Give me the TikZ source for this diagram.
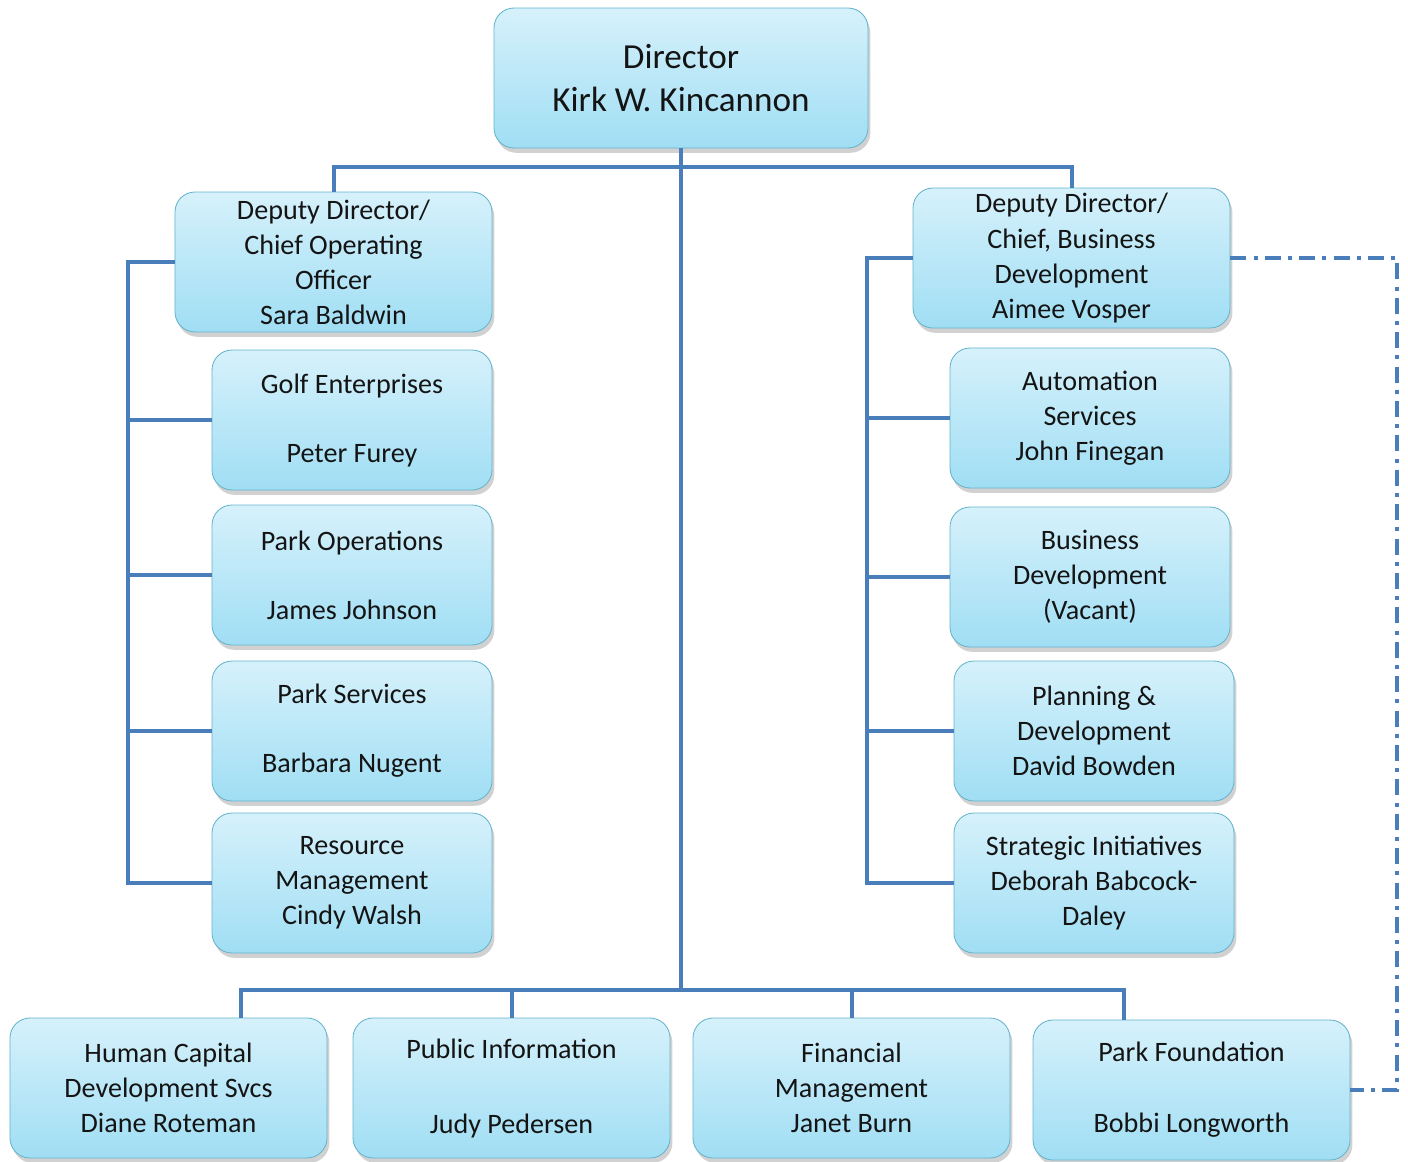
\documentclass[tikz,border=0pt]{standalone}
\usepackage{fontspec}
\setmainfont{Carlito}
\usepackage{xcolor}
\usetikzlibrary{positioning, calc, shadows}

\definecolor{linkblue}{RGB}{74,126,187}
\definecolor{boxedge}{RGB}{100,180,204}
\definecolor{boxtop}{RGB}{214,241,251}
\definecolor{boxbot}{RGB}{160,222,244}

\begin{document}
\begin{tikzpicture}[x=0.25mm, y=-0.25mm,
    unit/.style={draw=boxedge, line width=0.6pt, rounded corners=5mm,
      top color=boxtop, bottom color=boxbot,
      drop shadow={shadow xshift=0.6mm, shadow yshift=-1.2mm, opacity=0.3, fill=black!60},
      minimum height=35mm, inner sep=0pt, align=center, text=black!92,
      font=\fontsize{20}{24.9}\selectfont},
    wide/.style={unit, minimum width=79.25mm},
    narrow/.style={unit, minimum width=70mm},
    link/.style={draw=linkblue, line width=1mm},
    dotlink/.style={draw=linkblue, line width=0.9mm,
      dash pattern=on 4mm off 1.8mm on 1mm off 1.8mm}]

  \useasboundingbox (0,0) rectangle (1408,1161);

  % Director
  \node[unit, minimum width=93.5mm, font=\fontsize{25}{30.5}\selectfont] (director) at (681,78)
    {Director\\Kirk W. Kincannon};

  % Deputies
  \node[wide] (coo) at (333.5,262) {Deputy Director/\\Chief Operating\\Officer\\Sara Baldwin};
  \node[wide] (dbd) at (1071.5,258) {Deputy Director/\\Chief, Business\\Development\\Aimee Vosper};

  % Operations side
  \node[narrow] (golf) at (352,420) {Golf Enterprises\\[8.5mm]Peter Furey};
  \node[narrow] (parkops) at (352,575) {Park Operations\\[8.5mm]James Johnson};
  \node[narrow] (parksvc) at (352,731) {Park Services\\[8.5mm]Barbara Nugent};
  \node[narrow] (resmgmt) at (352,883) {Resource\\Management\\Cindy Walsh};

  % Business side
  \node[narrow] (auto) at (1090,418) {Automation\\Services\\John Finegan};
  \node[narrow] (bizdev) at (1090,577) {Business\\Development\\(Vacant)};
  \node[narrow] (planning) at (1094,731) {Planning \&\\Development\\David Bowden};
  \node[narrow] (strategic) at (1094,883) {Strategic Initiatives\\Deborah Babcock-\\Daley};

  % Staff offices
  \node[wide] (hcd) at (168.5,1088) {Human Capital\\Development Svcs\\Diane Roteman};
  \node[wide] (pubinfo) at (511.5,1088) {Public Information\\[10mm]Judy Pedersen};
  \node[wide] (finmgmt) at (851.5,1088) {Financial\\Management\\Janet Burn};
  \node[wide] (found) at (1191.5,1090) {Park Foundation\\[9mm]Bobbi Longworth};

  % Top tee
  \draw[link] (director.south) -- ++(0,19) coordinate (tee);
  \draw[link] (coo.north) |- (tee) -| (dbd.north);

  % Left bus
  \coordinate (lbus) at (128,262);
  \draw[link] (coo.west) -- (lbus) |- (resmgmt.west);
  \foreach \n in {golf,parkops,parksvc}
    \draw[link] (\n.west) -- (\n.west -| lbus);

  % Right bus
  \coordinate (rbus) at (867,258);
  \draw[link] (dbd.west) -- (rbus) |- (strategic.west);
  \foreach \n in {auto,bizdev,planning}
    \draw[link] (\n.west) -- (\n.west -| rbus);

  % Trunk and bottom bus
  \coordinate (trunk) at (681,990);
  \draw[link] (director.south) -- (trunk);
  \draw[link] ([xshift=18mm]hcd.north) |- (trunk) -| ([xshift=-17mm]found.north);
  \foreach \n in {pubinfo,finmgmt}
    \draw[link] (\n.north) -- (\n.north |- trunk);

  % Foundation link
  \coordinate (dashcorner) at (1397,1090);
  \draw[dotlink] (dbd.east) -| (dashcorner) -- (found.east);
\end{tikzpicture}
\end{document}
